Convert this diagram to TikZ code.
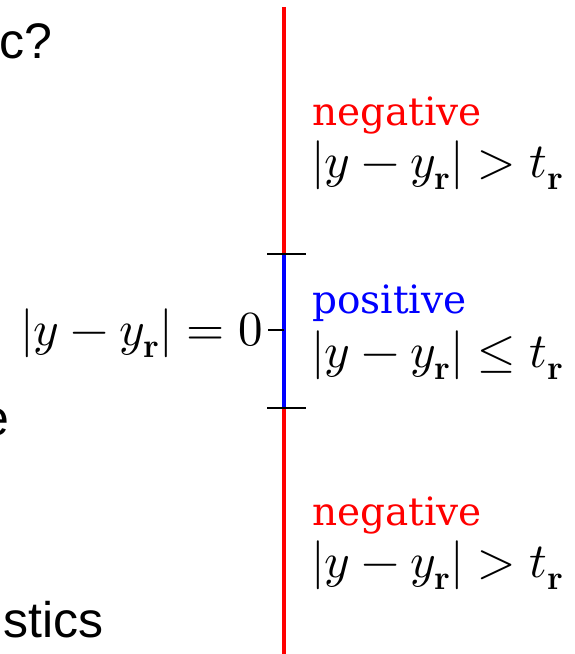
\documentclass[tikz,border=0pt]{standalone}
\usepackage{amsmath}
\usepackage{xcolor}
\usepackage{fontspec}
\usepackage{unicode-math}
\usepackage{tikz}

\setmathfont{Latin Modern Math}
\newfontfamily\slidefont{Liberation Sans}
\newfontfamily\wordfont{DejaVu Serif}

\begin{document}
\begin{tikzpicture}[
        x=1pt, y=-1pt,
        label/.style={
            inner sep=0pt,
            font=\fontsize{49}{52}\selectfont
        },
        word/.style={
            inner sep=0pt,
            font=\wordfont\fontsize{39}{44}\selectfont
        },
        slide/.style={
            inner sep=0pt,
            font=\slidefont\fontsize{50}{56}\selectfont
        },
        axis/.style={
            line width=3.6pt
        },
        tick/.style={
            line width=1.6pt
        }
    ]
    
    \clip (0, 0) rectangle (575, 654);
    
    % cut-off text from the slide
    \node[slide, anchor=base west] (frag1) at (-1, 58) {c?};
    \node[slide, anchor=base east] (frag2) at (10, 435) {e};
    \node[slide, anchor=base west] (frag3) at (3, 637) {stics};
    
    % points on the axis
    \coordinate (top) at (284, 7);
    \coordinate (upper) at (284, 254);
    \coordinate (zero) at (284, 330);
    \coordinate (lower) at (284, 408);
    \coordinate (bottom) at (284, 660);
    \coordinate (upperL) at (267, 254);
    \coordinate (upperR) at (306, 254);
    \coordinate (lowerL) at (267, 408);
    \coordinate (lowerR) at (306, 408);
    \coordinate (zeroL) at (268, 330);
    
    \draw[axis, red] (top) -- (upper);
    \draw[axis, blue] (upper) -- (lower);
    \draw[axis, red] (lower) -- (bottom);
    
    \draw[tick] (upperL) -- (upperR);
    \draw[tick] (lowerL) -- (lowerR);
    \draw[tick] (zeroL) -- (zero);
    
    \node[label, anchor=base east] (eqzero) at (263, 345) {$|y-y_{\mathbf{r}}|=0$};
    
    \node[word, anchor=base west, text=red] (neg1) at (312, 125) {negative};
    \node[label, anchor=base west] (negcond1) at (311, 177) {$|y-y_{\mathbf{r}}|>t_{\mathbf{r}}$};
    \node[word, anchor=base west, text=blue] (pos) at (312, 313) {positive};
    \node[label, anchor=base west] (poscond) at (311, 367) {$|y-y_{\mathbf{r}}|\leq t_{\mathbf{r}}$};
    \node[word, anchor=base west, text=red] (neg2) at (312, 525) {negative};
    \node[label, anchor=base west] (negcond2) at (311, 577) {$|y-y_{\mathbf{r}}|>t_{\mathbf{r}}$};
    
    \end{tikzpicture}
\end{document}
